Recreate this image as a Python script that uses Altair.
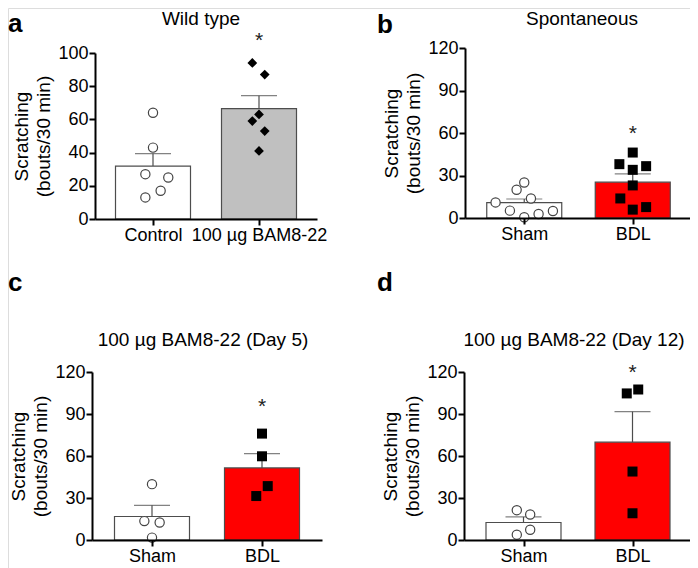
import altair as alt
import pandas as pd

FONT = "Liberation Sans"

# ---------------- data ----------------
# panel a (Wild type)
a_groups = ["Control", "100 µg BAM8-22"]
a_means = [31.9, 66.5]
a_sems = [7.5, 7.8]
a_pts_0 = [64, 43, 27, 25, 17, 13]
a_dx_0 = [0, 0, -8, 16, 8, -8]
a_pts_1 = [94, 87, 63, 59, 53, 41]
a_dx_1 = [-7, 6, 0, -7, 6, 0]
a_star = 109.5

# panel b (Spontaneous)
b_groups = ["Sham", "BDL"]
b_means = [10.8, 25.3]
b_sems = [2.6, 5.9]
b_pts_0 = [11, 19.9, 25.1, 13.8, 5.2, 0.5, 2.8, 4.9]
b_dx_0 = [-30, -8, 0, 7, -15, 0, 15, 30]
b_pts_1 = [46.2, 38, 34, 36.6, 23, 13.8, 7.7, 5.9]
b_dx_1 = [0, -14, 0, 14, 0, -13, 14, 0]
b_star = 62

# panel c (Day 5)
c_groups = ["Sham", "BDL"]
c_means = [16.8, 51.5]
c_sems = [8.0, 10.2]
c_pts_0 = [39.9, 13.5, 12.5, 1.7]
c_dx_0 = [0, -8, 8, 0]
c_pts_1 = [76, 59.8, 38.5, 31.4]
c_dx_1 = [0, 0, 6, -6]
c_star = 98

# panel d (Day 12)
d_groups = ["Sham", "BDL"]
d_means = [12.5, 69.9]
d_sems = [4.0, 21.8]
d_pts_0 = [21.3, 18.2, 7.3, 3.8]
d_dx_0 = [-7, 7, 7, -7]
d_pts_1 = [104.7, 107.5, 48.9, 19.1]
d_dx_1 = [-6, 6, 0, 0]
d_star = 122

titles = ["Wild type", "Spontaneous", "100 µg BAM8-22 (Day 5)", "100 µg BAM8-22 (Day 12)"]
letters = ["a", "b", "c", "d"]
Y_TITLE = ["Scratching", "(bouts/30 min)"]

W, H = 682, 560


def panel(groups, means, sems, pts0, dx0, pts1, dx1, star, fills, shape1,
          ymax, ystep, title, letter, xr, yr, title_xy, letter_xy):
    pw = xr[1] - xr[0]
    half = pw / 2.0
    bars = pd.DataFrame({
        "pos": [0.5, 1.5],
        "mean": means,
        "top": [m + s for m, s in zip(means, sems)],
        "fill": fills,
    })
    p0 = pd.DataFrame({"v": pts0, "pos": [0.5 + d / half for d in dx0]})
    p1 = pd.DataFrame({"v": pts1, "pos": [1.5 + d / half for d in dx1]})
    st = pd.DataFrame({"pos": [1.5], "v": [star]})
    tt = pd.DataFrame({"t": [title], "l": [letter]})

    label_expr = "datum.value < 1 ? '%s' : '%s'" % (groups[0], groups[1])
    xs = alt.Scale(domain=[0, 2], range=list(xr), nice=False, zero=False)
    ys = alt.Scale(domain=[0, ymax], range=list(yr), nice=False)
    xax = alt.Axis(orient="bottom", offset=yr[0] - H, values=[0.5, 1.5],
                   labelExpr=label_expr, title=None, grid=False,
                   domainColor="black", domainWidth=2, tickColor="black",
                   tickWidth=2, tickSize=6, labelFont=FONT, labelFontSize=18,
                   labelColor="black", labelPadding=1, labelOverlap=False,
                   zindex=1)
    yax = alt.Axis(orient="left", offset=-xr[0],
                   values=list(range(0, ymax + 1, ystep)), title=Y_TITLE,
                   grid=False, domainColor="black", domainWidth=2,
                   tickColor="black", tickWidth=2, tickSize=6,
                   labelFont=FONT, labelFontSize=18, labelColor="black",
                   labelPadding=1, labelOverlap=False, labelFlush=False,
                   titleFont=FONT, titleFontSize=19, titleFontWeight="normal",
                   titleColor="black", titlePadding=4, titleLineHeight=22,
                   zindex=1)

    bar = alt.Chart(bars).mark_bar(size=75, stroke="#4d4d4d", strokeWidth=1.2).encode(
        x=alt.X("pos:Q", scale=xs, axis=xax),
        y=alt.Y("mean:Q", scale=ys, axis=yax),
        y2=alt.datum(0),
        fill=alt.Fill("fill:N", scale=None),
    )
    err = alt.Chart(bars).mark_rule(color="#4d4d4d", strokeWidth=1.2).encode(
        x="pos:Q", y="mean:Q", y2="top:Q")
    cap = alt.Chart(bars).mark_tick(orient="horizontal", size=36, thickness=1.2,
                                    color="#4d4d4d").encode(x="pos:Q", y="top:Q")
    pt0 = alt.Chart(p0).mark_point(shape="circle", size=85, fill="white",
                                   fillOpacity=1, opacity=1, stroke="#444444",
                                   strokeWidth=1.2).encode(x="pos:Q", y="v:Q")
    if shape1 == "diamond":
        pt1 = alt.Chart(p1).mark_point(shape="diamond", size=95, filled=True,
                                       color="black", opacity=1).encode(x="pos:Q", y="v:Q")
    else:
        pt1 = alt.Chart(p1).mark_point(shape="square", size=100, filled=True,
                                       color="black", opacity=1).encode(x="pos:Q", y="v:Q")
    star_m = alt.Chart(st).mark_text(text="*", font=FONT, fontSize=21,
                                     color="#222222", baseline="middle", dy=4).encode(
        x="pos:Q", y="v:Q")
    ttl = alt.Chart(tt).mark_text(font=FONT, fontSize=19, align="center",
                                  baseline="alphabetic", color="black").encode(
        text="t:N", x=alt.value(title_xy[0]), y=alt.value(title_xy[1]))
    let = alt.Chart(tt).mark_text(font=FONT, fontSize=26, fontWeight="bold",
                                  align="left", baseline="alphabetic",
                                  color="black").encode(
        text="l:N", x=alt.value(letter_xy[0]), y=alt.value(letter_xy[1]))

    return alt.layer(bar, err, cap, pt0, pt1, star_m, ttl, let)


pa = panel(a_groups, a_means, a_sems, a_pts_0, a_dx_0, a_pts_1, a_dx_1, a_star,
           ["white", "#c0c0c0"], "diamond", 100, 20, titles[0], letters[0],
           (87, 309), (211, 45), (193, 17), (0, 24))
pb = panel(b_groups, b_means, b_sems, b_pts_0, b_dx_0, b_pts_1, b_dx_1, b_star,
           ["white", "#ff0000"], "square", 120, 30, titles[1], letters[1],
           (457, 684), (210, 40), (574, 17), (369, 25))
pc = panel(c_groups, c_means, c_sems, c_pts_0, c_dx_0, c_pts_1, c_dx_1, c_star,
           ["white", "#ff0000"], "square", 120, 30, titles[2], letters[2],
           (84, 314), (532, 364), (195, 338), (0, 283))
pd_ = panel(d_groups, d_means, d_sems, d_pts_0, d_dx_0, d_pts_1, d_dx_1, d_star,
            ["white", "#ff0000"], "square", 120, 30, titles[3], letters[3],
            (456, 684), (532, 364), (566, 338), (369, 283))

chart = alt.layer(pa, pb, pc, pd_).resolve_scale(
    x="independent", y="independent"
).resolve_axis(
    x="independent", y="independent"
).properties(
    width=W, height=H, padding=0,
    autosize=alt.AutoSizeParams(type="none"),
).configure_view(stroke=None).configure(background="white")

chart.save("out.html", embed_options={"renderer": "svg", "actions": False})
